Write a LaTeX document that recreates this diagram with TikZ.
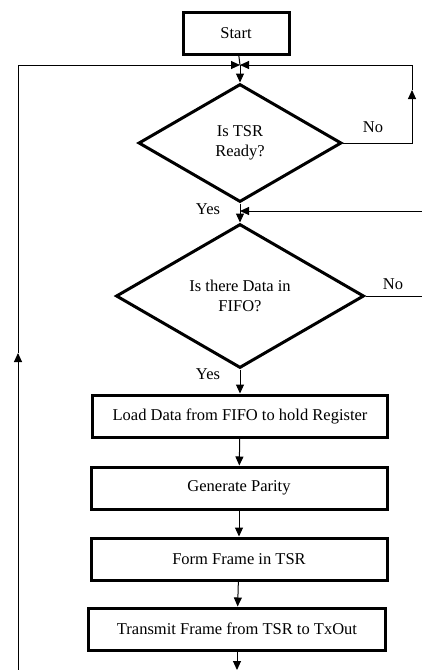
\documentclass[tikz,border=0pt]{standalone}
\usepackage{fontspec}
\setmainfont{Liberation Serif}
\usetikzlibrary{arrows.meta, calc, positioning, shapes.geometric}

\begin{document}
\begin{tikzpicture}[x=1pt,y=-1pt,>={Triangle[length=9pt,width=8pt]},
   txt/.style={font=\fontsize{16.5}{20}\selectfont},
   box/.style={txt,draw,line width=3pt,minimum height=42pt,inner sep=0pt},
   decide/.style={txt,diamond,draw,line width=3pt,inner sep=0pt,align=center},
   flow/.style={line width=1pt}]
  \useasboundingbox (0,0) rectangle (422,670);
  % start and the two tests
  \node[box,minimum width=106pt] (start) at (236,33) {Start};
  \node[decide,minimum width=203pt,minimum height=118pt] (tsr) at (240,143) {Is TSR\\Ready?};
  \node[decide,minimum width=248pt,minimum height=144pt] (fifo) at (240,296) {Is there Data in\\FIFO?};
  % process steps
  \node[box,minimum width=295pt] (load) at (240,416) {Load Data from FIFO to hold Register};
  \node[box,minimum width=296pt] (parity) at (239,488) {Generate Parity};
  \node[box,minimum width=296pt] (frame) at (239,559) {Form Frame in TSR};
  \node[box,minimum width=297pt] (send) at (237,629) {Transmit Frame from TSR to TxOut};
  % junctions and loop corners
  \coordinate (j1) at (240,65);
  \coordinate (j2) at (240,211);
  \coordinate (upar) at (412,90);
  \coordinate (lb) at (18,670);
  \coordinate (lup) at (18,353);
  \coordinate (fr) at (422,296);
  \coordinate (rr) at (422,211);
  \coordinate (out) at (237,670);
  % main flow
  \draw[flow] (start) -- (j1);
  \draw[flow,->] (j1) -- (tsr.north);
  \draw[flow] (tsr.south) -- (j2);
  \draw[flow,->] (j2) -- (fifo.north);
  \draw[flow,->] (fifo.south) -- (load);
  \draw[flow,->] (load) -- (parity);
  \draw[flow,->] (parity) -- (frame);
  \draw[flow,->] (frame) -- (send);
  \draw[flow,->] (send) -- (out);
  % loops back
  \draw[flow,->] (tsr.east) -| (upar);
  \draw[flow,->] (upar) |- (j1);
  \draw[flow,->] (lb) -- (lup);
  \draw[flow,->] (lup) |- (j1);
  \draw[flow] (fifo.east) -- (fr);
  \draw[flow,->] (rr) -- (j2);
  % branch labels
  \node[txt] (no1) at (373,127) {No};
  \node[txt] (no2) at (393,284) {No};
  \node[txt] (yes1) at (208,209) {Yes};
  \node[txt] (yes2) at (208,374) {Yes};
\end{tikzpicture}
\end{document}
